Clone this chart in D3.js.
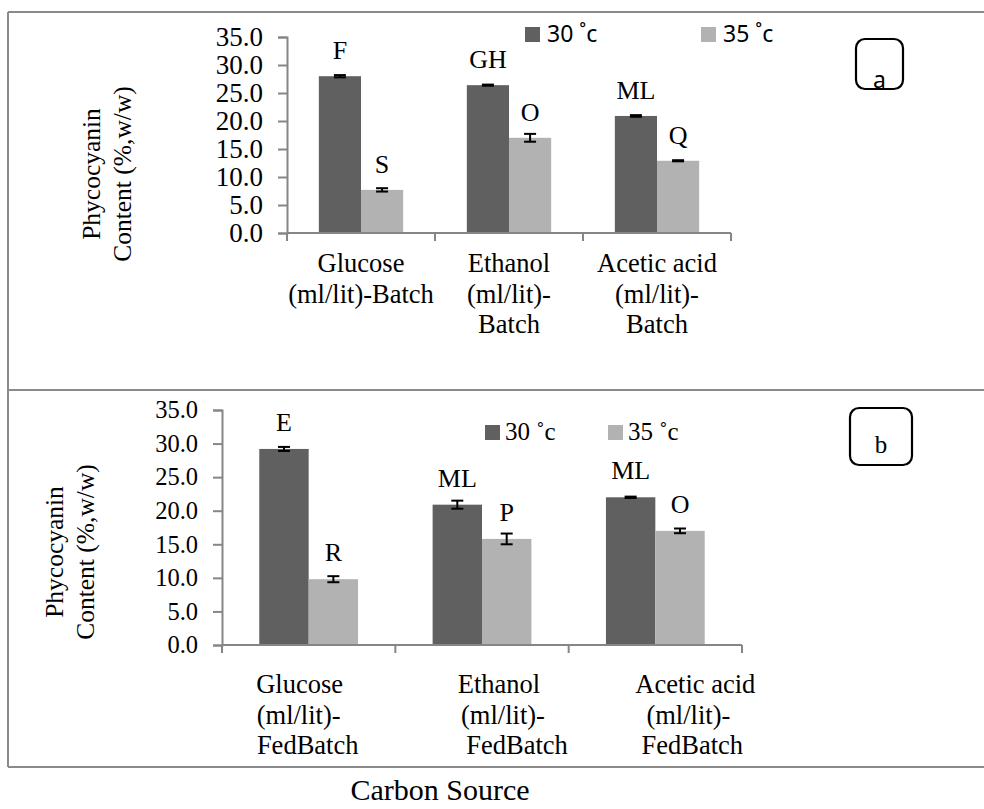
<!DOCTYPE html>
<html>
<head>
<meta charset="utf-8">
<script src="https://cdn.jsdelivr.net/npm/d3@7"></script>
<style>
  body { margin: 0; background: #fff; }
  svg { display: block; }
  text { fill: #000; }
</style>
</head>
<body>
<div id="chart"></div>
<script>
// ---- data ----
const seriesNames = ['30 ˚c', '35 ˚c'];
const yTickValues = [0, 5, 10, 15, 20, 25, 30, 35];

const batchCategories = ['Glucose', 'Ethanol', 'Acetic acid'];
const batchLabelLines = [['Glucose', '(ml/lit)-Batch'], ['Ethanol', '(ml/lit)-', 'Batch'], ['Acetic acid', '(ml/lit)-', 'Batch']];
const batch30 = [28.0, 26.4, 20.9];
const batch30Err = [0.2, 0.1, 0.15];
const batch35 = [7.7, 17.0, 12.9];
const batch35Err = [0.3, 0.7, 0.1];
const batch30Letters = ['F', 'GH', 'ML'];
const batch35Letters = ['S', 'O', 'Q'];

const fedCategories = ['Glucose', 'Ethanol', 'Acetic acid'];
const fedLabelLines = [['Glucose', '(ml/lit)-', 'FedBatch'], ['Ethanol', '(ml/lit)-', 'FedBatch'], ['Acetic acid', '(ml/lit)-', 'FedBatch']];
const fed30 = [29.2, 20.9, 22.0];
const fed30Err = [0.3, 0.6, 0.1];
const fed35 = [9.8, 15.8, 17.0];
const fed35Err = [0.45, 0.8, 0.35];
const fed30Letters = ['E', 'ML', 'ML'];
const fed35Letters = ['R', 'P', 'O'];

// ---- styles ----
const colors = ['#606060', '#b2b2b2'];
const axisColor = '#868686';
const frameColor = '#8a8a8a';
const serif = '"Liberation Serif", "Times New Roman", serif';
const sans = '"Noto Sans", "Open Sans", sans-serif';
const W = 984, H = 809;

const svg = d3.select('#chart').append('svg')
  .attr('width', W)
  .attr('height', H)
  .attr('font-family', serif);

// panel frames
[12, 390, 767].forEach((yy) => {
  svg.append('line').attr('x1', 8).attr('x2', W + 5).attr('y1', yy).attr('y2', yy)
    .attr('stroke', frameColor).attr('stroke-width', 2);
});
svg.append('line').attr('x1', 8).attr('x2', 8).attr('y1', 12).attr('y2', 767)
  .attr('stroke', frameColor).attr('stroke-width', 2);

/**
 * Draw one grouped bar panel
 */
function drawPanel(p) {
  const g = svg.append('g');
  const y = d3.scaleLinear().domain([0, 35]).range([p.y0, p.y1]);
  const x = d3.scaleBand().domain(p.categories).range([p.x0, p.x1]).padding(0);
  const xs = d3.scaleBand().domain(seriesNames).range([0, x.bandwidth()])
    .paddingInner(0).paddingOuter(0.755);

  const values = [p.v30, p.v35];
  const errs = [p.e30, p.e35];
  const letters = [p.l30, p.l35];

  // bars
  seriesNames.forEach((s, si) => {
    g.selectAll(null)
      .data(p.categories)
      .enter()
      .append('rect')
      .attr('x', (c) => x(c) + xs(s))
      .attr('y', (c, i) => y(values[si][i]))
      .attr('width', xs.bandwidth())
      .attr('height', (c, i) => p.y0 - y(values[si][i]))
      .attr('fill', colors[si]);
  });

  // error bars and letters
  seriesNames.forEach((s, si) => {
    p.categories.forEach((c, i) => {
      const cx = x(c) + xs(s) + xs.bandwidth() / 2;
      const v = values[si][i], e = errs[si][i];
      const eg = g.append('g').attr('stroke', '#000').attr('stroke-width', 2);
      eg.append('line').attr('x1', cx).attr('x2', cx).attr('y1', y(v - e)).attr('y2', y(v + e));
      eg.append('line').attr('x1', cx - 6).attr('x2', cx + 6).attr('y1', y(v - e)).attr('y2', y(v - e));
      eg.append('line').attr('x1', cx - 6).attr('x2', cx + 6).attr('y1', y(v + e)).attr('y2', y(v + e));
      g.append('text')
        .attr('x', cx)
        .attr('y', y(v) - p.letterGap)
        .attr('text-anchor', 'middle')
        .attr('font-family', serif)
        .attr('font-size', 26)
        .text(letters[si][i]);
    });
  });

  // y axis
  const yAxis = d3.axisLeft(y).tickValues(yTickValues).tickSize(9).tickPadding(15)
    .tickFormat((d) => d.toFixed(1));
  const ya = g.append('g').attr('transform', `translate(${p.x0},0)`).call(yAxis)
    .attr('font-family', serif).attr('font-size', p.tickSize);
  ya.select('.domain').attr('stroke', axisColor).attr('stroke-width', 2);
  ya.selectAll('.tick line').attr('stroke', axisColor).attr('stroke-width', 2);
  ya.selectAll('.tick text').attr('fill', '#000');

  // x axis: baseline plus ticks at category boundaries
  const bounds = p.categories.map((c) => x(c)).concat([p.x1]);
  g.append('line').attr('x1', p.x0).attr('x2', p.x1).attr('y1', p.y0).attr('y2', p.y0)
    .attr('stroke', axisColor).attr('stroke-width', 2);
  g.selectAll(null).data(bounds).enter().append('line')
    .attr('x1', (d) => d).attr('x2', (d) => d)
    .attr('y1', p.y0).attr('y2', p.y0 + 8)
    .attr('stroke', axisColor).attr('stroke-width', 2);

  // category labels
  p.categories.forEach((c, i) => {
    const cx = x(c) + x.bandwidth() / 2;
    p.labelLines[i].forEach((line, li) => {
      g.append('text')
        .attr('x', cx + (p.labelShift ? p.labelShift[i][li] : 0))
        .attr('y', p.y0 + p.labelTop + li * 30.5)
        .attr('text-anchor', 'middle')
        .attr('font-family', serif)
        .attr('font-size', 26.5)
        .text(line);
    });
  });

  // y title
  const yt = g.append('text')
    .attr('transform', `translate(${p.titleX},${p.titleY}) rotate(-90)`)
    .attr('text-anchor', 'middle')
    .attr('font-family', serif)
    .attr('font-size', 25.5);
  yt.append('tspan').attr('x', 0).attr('dy', 0).text('Phycocyanin');
  yt.append('tspan').attr('x', 0).attr('dy', 31).text('Content (%,w/w)');

  // legend
  seriesNames.forEach((s, si) => {
    g.append('rect')
      .attr('x', p.legendX[si]).attr('y', p.legendY - 15)
      .attr('width', 15).attr('height', 15)
      .attr('fill', colors[si]);
    g.append('text')
      .attr('x', p.legendX[si] + p.legendTextGap)
      .attr('y', p.legendY)
      .attr('font-family', p.legendFont)
      .attr('font-size', p.legendSize)
      .text(s);
  });

  // panel tag box
  g.append('rect')
    .attr('x', p.tag.x).attr('y', p.tag.y)
    .attr('width', p.tag.w).attr('height', p.tag.h)
    .attr('rx', 9).attr('ry', 9)
    .attr('fill', 'none').attr('stroke', '#000').attr('stroke-width', 2.2);
  g.append('text')
    .attr('x', p.tag.x + p.tag.w / 2)
    .attr('y', p.tag.baseline)
    .attr('text-anchor', 'middle')
    .attr('font-family', p.tag.font)
    .attr('font-size', p.tag.size)
    .text(p.tag.text);
}

drawPanel({
  categories: batchCategories,
  labelLines: batchLabelLines,
  v30: batch30, e30: batch30Err, v35: batch35, e35: batch35Err,
  l30: batch30Letters, l35: batch35Letters,
  x0: 287, x1: 731, y0: 233, y1: 37,
  tickSize: 27,
  letterGap: 17,
  labelTop: 39,
  titleX: 100, titleY: 174,
  legendX: [525, 701], legendY: 42, legendTextGap: 22,
  legendFont: sans, legendSize: 23,
  tag: { x: 856, y: 39, w: 47, h: 50, baseline: 88, text: 'a', font: sans, size: 23 }
});

drawPanel({
  categories: fedCategories,
  labelLines: fedLabelLines,
  v30: fed30, e30: fed30Err, v35: fed35, e35: fed35Err,
  l30: fed30Letters, l35: fed35Letters,
  x0: 222, x1: 742, y0: 645, y1: 410,
  tickSize: 24.5,
  letterGap: 18,
  labelTop: 48,
  labelShift: [[-9, -10, -1], [17, 21, 35], [40, 33, 37]],
  titleX: 63, titleY: 552,
  legendX: [485, 608], legendY: 440, legendTextGap: 20,
  legendFont: serif, legendSize: 25,
  tag: { x: 850, y: 408, w: 62, h: 57, baseline: 453, text: 'b', font: serif, size: 25 }
});

// shared x title
svg.append('text')
  .attr('x', 440)
  .attr('y', 800)
  .attr('text-anchor', 'middle')
  .attr('font-family', serif)
  .attr('font-size', 30)
  .text('Carbon Source');
</script>
</body>
</html>
